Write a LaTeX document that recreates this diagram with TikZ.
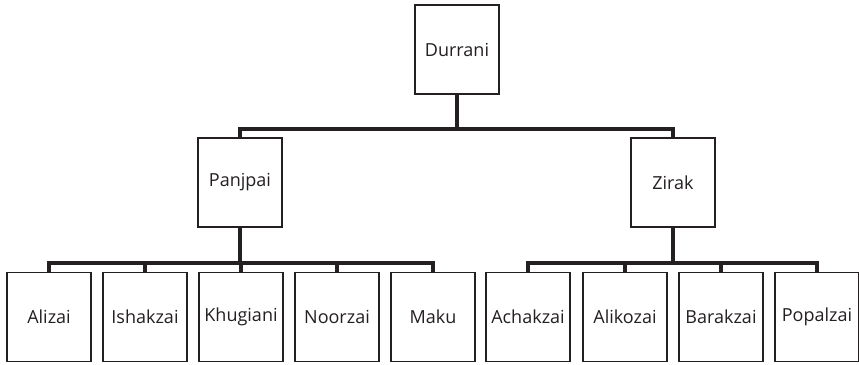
\documentclass[tikz,border=0pt]{standalone}
\usepackage{fontspec}
\setmainfont{Open Sans}
\definecolor{inkgrey}{rgb}{0.14,0.12,0.13}
\tikzset{
  tribebox/.style={draw=inkgrey,line width=1.1pt,fill=white,text=inkgrey,
    minimum width=63pt,minimum height=66.5pt,inner sep=0.75pt,
    font=\fontsize{13.5}{16}\selectfont},
  branch/.style={draw=inkgrey,line width=2.3pt}
}
\begin{document}
\begin{tikzpicture}[x=0.75pt,y=0.75pt,yscale=-1,xscale=1]
\useasboundingbox (0,0) rectangle (859,364);

% Top Node
\node [tribebox] (durrani) at (457,49.5) {Durrani};
% Second level
\node [tribebox] (panjpai) at (240,182.5) {Panjpai};
\node [tribebox] (zirak) at (673,182.5) {Zirak};
% Bottom row
\node [tribebox] (alizai) at (49,317) {Alizai};
\node [tribebox] (ishakzai) at (145,317) {Ishakzai};
\node [tribebox] (khugiani) at (241,317) {Khugiani};
\node [tribebox] (noorzai) at (337,317) {Noorzai};
\node [tribebox] (maku) at (433,317) {Maku};
\node [tribebox] (achakzai) at (528,317) {Achakzai};
\node [tribebox] (alikozai) at (625,317) {Alikozai};
\node [tribebox] (barakzai) at (721,317) {Barakzai};
\node [tribebox] (popalzai) at (817,317) {Popalzai};

% Bars
\coordinate (topbar) at (457,129);
\coordinate (panjbar) at (240,263);
\coordinate (zirbar) at (673,263);

\draw [branch] (durrani.south) -- (topbar);
\draw [branch] (panjpai.north) |- (topbar) -| (zirak.north);

\draw [branch] (panjpai.south) -- (panjbar);
\draw [branch] (alizai.north) |- (panjbar) -| (maku.north);
\foreach \t in {ishakzai,khugiani,noorzai}
  \draw [branch] (\t.north) -- (\t.north |- panjbar);

\draw [branch] (zirak.south) -- (zirbar);
\draw [branch] (achakzai.north) |- (zirbar) -| (popalzai.north);
\foreach \t in {alikozai,barakzai}
  \draw [branch] (\t.north) -- (\t.north |- zirbar);

\end{tikzpicture}
\end{document}
